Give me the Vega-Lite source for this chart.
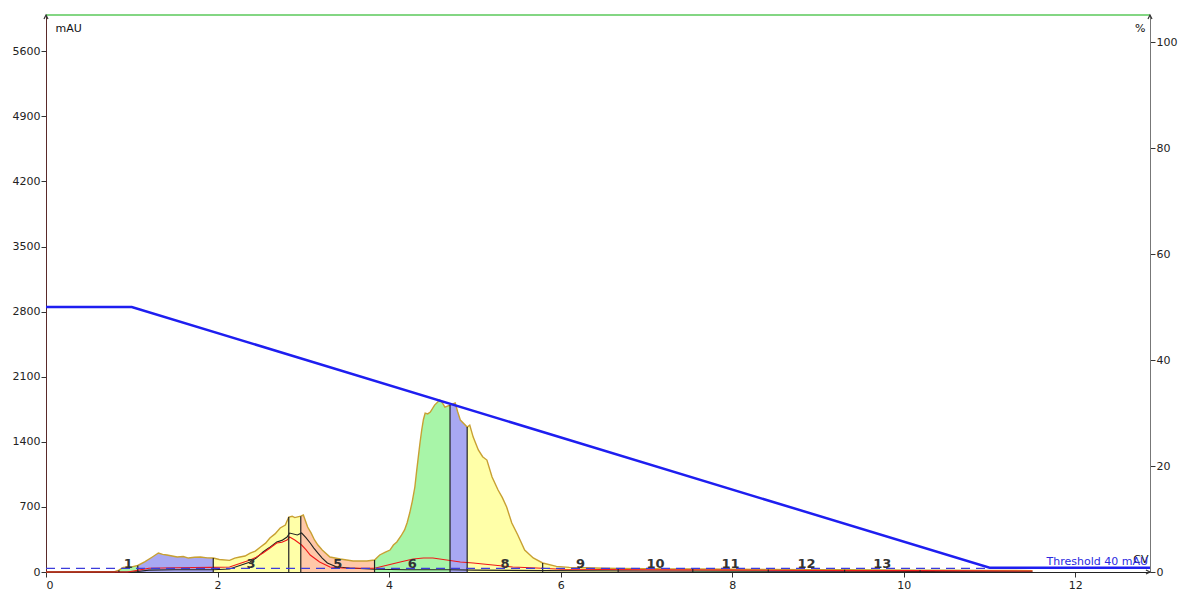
{
  "$schema": "https://vega.github.io/schema/vega-lite/v6.json",
  "width": 1104,
  "height": 557,
  "autosize": {"type": "none"},
  "padding": {"left": 46, "top": 15, "right": 32, "bottom": 19},
  "background": "white",
  "config": {
    "view": {"stroke": null},
    "font": "DejaVu Sans",
    "axis": {"labelFont": "DejaVu Sans", "labelFontSize": 11, "labelColor": "#222", "tickSize": 5, "tickColor": "#333", "grid": false, "titleFont": "DejaVu Sans", "titleFontSize": 11, "titleFontWeight": "normal", "titleColor": "#111", "format": "d"}
  },
  "datasets": {
    "uv": [
      {"cv": 0, "mau": 0, "frac": "0"}, {"cv": 0.5, "mau": 2, "frac": "0"}, {"cv": 0.8, "mau": 4, "frac": "0"},
      {"cv": 0.85, "mau": 20, "frac": "1"}, {"cv": 0.9, "mau": 50, "frac": "1"}, {"cv": 1.0, "mau": 55, "frac": "1"}, {"cv": 1.07, "mau": 70, "frac": "1"},
      {"cv": 1.07, "mau": 70, "frac": "2"}, {"cv": 1.15, "mau": 108, "frac": "2"}, {"cv": 1.24, "mau": 161, "frac": "2"}, {"cv": 1.31, "mau": 204, "frac": "2"}, {"cv": 1.36, "mau": 190, "frac": "2"}, {"cv": 1.41, "mau": 183, "frac": "2"}, {"cv": 1.47, "mau": 172, "frac": "2"}, {"cv": 1.53, "mau": 161, "frac": "2"}, {"cv": 1.6, "mau": 166, "frac": "2"}, {"cv": 1.66, "mau": 150, "frac": "2"}, {"cv": 1.73, "mau": 158, "frac": "2"}, {"cv": 1.8, "mau": 161, "frac": "2"}, {"cv": 1.88, "mau": 152, "frac": "2"}, {"cv": 1.95, "mau": 150, "frac": "2"},
      {"cv": 1.95, "mau": 150, "frac": "3"}, {"cv": 2.02, "mau": 135, "frac": "3"}, {"cv": 2.14, "mau": 125, "frac": "3"}, {"cv": 2.2, "mau": 150, "frac": "3"}, {"cv": 2.26, "mau": 161, "frac": "3"}, {"cv": 2.32, "mau": 172, "frac": "3"}, {"cv": 2.38, "mau": 204, "frac": "3"}, {"cv": 2.44, "mau": 225, "frac": "3"}, {"cv": 2.5, "mau": 269, "frac": "3"}, {"cv": 2.56, "mau": 310, "frac": "3"}, {"cv": 2.61, "mau": 366, "frac": "3"}, {"cv": 2.67, "mau": 410, "frac": "3"}, {"cv": 2.73, "mau": 473, "frac": "3"}, {"cv": 2.79, "mau": 505, "frac": "3"}, {"cv": 2.83, "mau": 591, "frac": "3"},
      {"cv": 2.83, "mau": 591, "frac": "4"}, {"cv": 2.87, "mau": 600, "frac": "4"}, {"cv": 2.9, "mau": 585, "frac": "4"}, {"cv": 2.97, "mau": 600, "frac": "4"},
      {"cv": 2.97, "mau": 600, "frac": "5"}, {"cv": 3.0, "mau": 613, "frac": "5"}, {"cv": 3.05, "mau": 484, "frac": "5"}, {"cv": 3.09, "mau": 420, "frac": "5"}, {"cv": 3.13, "mau": 344, "frac": "5"}, {"cv": 3.17, "mau": 290, "frac": "5"}, {"cv": 3.22, "mau": 237, "frac": "5"}, {"cv": 3.31, "mau": 161, "frac": "5"}, {"cv": 3.43, "mau": 140, "frac": "5"}, {"cv": 3.58, "mau": 118, "frac": "5"}, {"cv": 3.74, "mau": 118, "frac": "5"}, {"cv": 3.83, "mau": 129, "frac": "5"},
      {"cv": 3.83, "mau": 129, "frac": "6"}, {"cv": 3.89, "mau": 183, "frac": "6"}, {"cv": 3.95, "mau": 210, "frac": "6"}, {"cv": 4.01, "mau": 236, "frac": "6"}, {"cv": 4.05, "mau": 290, "frac": "6"}, {"cv": 4.09, "mau": 323, "frac": "6"}, {"cv": 4.14, "mau": 390, "frac": "6"}, {"cv": 4.18, "mau": 452, "frac": "6"}, {"cv": 4.21, "mau": 530, "frac": "6"}, {"cv": 4.24, "mau": 634, "frac": "6"}, {"cv": 4.27, "mau": 760, "frac": "6"}, {"cv": 4.3, "mau": 914, "frac": "6"}, {"cv": 4.32, "mau": 1080, "frac": "6"}, {"cv": 4.34, "mau": 1236, "frac": "6"}, {"cv": 4.36, "mau": 1390, "frac": "6"}, {"cv": 4.38, "mau": 1527, "frac": "6"}, {"cv": 4.4, "mau": 1640, "frac": "6"}, {"cv": 4.42, "mau": 1709, "frac": "6"}, {"cv": 4.45, "mau": 1700, "frac": "6"}, {"cv": 4.48, "mau": 1720, "frac": "6"}, {"cv": 4.53, "mau": 1795, "frac": "6"}, {"cv": 4.59, "mau": 1849, "frac": "6"}, {"cv": 4.62, "mau": 1820, "frac": "6"}, {"cv": 4.65, "mau": 1774, "frac": "6"}, {"cv": 4.71, "mau": 1795, "frac": "6"},
      {"cv": 4.71, "mau": 1795, "frac": "7"}, {"cv": 4.77, "mau": 1817, "frac": "7"}, {"cv": 4.8, "mau": 1720, "frac": "7"}, {"cv": 4.83, "mau": 1634, "frac": "7"}, {"cv": 4.91, "mau": 1559, "frac": "7"},
      {"cv": 4.91, "mau": 1559, "frac": "8"}, {"cv": 4.94, "mau": 1580, "frac": "8"}, {"cv": 4.98, "mau": 1451, "frac": "8"}, {"cv": 5.04, "mau": 1312, "frac": "8"}, {"cv": 5.09, "mau": 1240, "frac": "8"}, {"cv": 5.14, "mau": 1204, "frac": "8"}, {"cv": 5.2, "mau": 1021, "frac": "8"}, {"cv": 5.27, "mau": 882, "frac": "8"}, {"cv": 5.32, "mau": 800, "frac": "8"}, {"cv": 5.37, "mau": 699, "frac": "8"}, {"cv": 5.43, "mau": 527, "frac": "8"}, {"cv": 5.5, "mau": 398, "frac": "8"}, {"cv": 5.58, "mau": 237, "frac": "8"}, {"cv": 5.68, "mau": 151, "frac": "8"}, {"cv": 5.79, "mau": 97, "frac": "8"},
      {"cv": 5.79, "mau": 97, "frac": "9"}, {"cv": 5.95, "mau": 60, "frac": "9"}, {"cv": 6.1, "mau": 50, "frac": "9"}, {"cv": 6.3, "mau": 45, "frac": "9"}, {"cv": 6.5, "mau": 40, "frac": "9"}, {"cv": 6.67, "mau": 38, "frac": "9"},
      {"cv": 6.67, "mau": 38, "frac": "10"}, {"cv": 7.0, "mau": 35, "frac": "10"}, {"cv": 7.3, "mau": 33, "frac": "10"}, {"cv": 7.54, "mau": 32, "frac": "10"},
      {"cv": 7.54, "mau": 32, "frac": "11"}, {"cv": 8.0, "mau": 30, "frac": "11"}, {"cv": 8.42, "mau": 28, "frac": "11"},
      {"cv": 8.42, "mau": 28, "frac": "12"}, {"cv": 8.9, "mau": 25, "frac": "12"}, {"cv": 9.31, "mau": 24, "frac": "12"},
      {"cv": 9.31, "mau": 24, "frac": "13"}, {"cv": 9.8, "mau": 22, "frac": "13"}, {"cv": 10.19, "mau": 20, "frac": "13"},
      {"cv": 10.5, "mau": 19, "frac": "0"}, {"cv": 11.0, "mau": 18, "frac": "0"}, {"cv": 11.5, "mau": 15, "frac": "0"}
    ],
    "black": [
      {"cv": 0, "mau": 0}, {"cv": 1.0, "mau": 0}, {"cv": 1.07, "mau": 5}, {"cv": 1.2, "mau": 20}, {"cv": 1.5, "mau": 25}, {"cv": 1.95, "mau": 25}, {"cv": 2.14, "mau": 32}, {"cv": 2.38, "mau": 108}, {"cv": 2.45, "mau": 150}, {"cv": 2.53, "mau": 215}, {"cv": 2.6, "mau": 260}, {"cv": 2.69, "mau": 323}, {"cv": 2.75, "mau": 340}, {"cv": 2.81, "mau": 376}, {"cv": 2.84, "mau": 419}, {"cv": 2.93, "mau": 398}, {"cv": 2.98, "mau": 419}, {"cv": 3.03, "mau": 370}, {"cv": 3.08, "mau": 312}, {"cv": 3.12, "mau": 260}, {"cv": 3.17, "mau": 204}, {"cv": 3.22, "mau": 150}, {"cv": 3.28, "mau": 97}, {"cv": 3.39, "mau": 54}, {"cv": 3.54, "mau": 43}, {"cv": 3.83, "mau": 30}, {"cv": 4.2, "mau": 25}, {"cv": 4.7, "mau": 25}, {"cv": 5.0, "mau": 20}, {"cv": 5.8, "mau": 15}, {"cv": 7.0, "mau": 10}, {"cv": 9.0, "mau": 8}, {"cv": 10.2, "mau": 5}, {"cv": 11.5, "mau": 3}
    ],
    "red": [
      {"cv": 0, "mau": 0}, {"cv": 0.95, "mau": 0}, {"cv": 1.05, "mau": 15}, {"cv": 1.2, "mau": 40}, {"cv": 1.5, "mau": 45}, {"cv": 1.95, "mau": 50}, {"cv": 2.14, "mau": 54}, {"cv": 2.38, "mau": 129}, {"cv": 2.45, "mau": 160}, {"cv": 2.53, "mau": 204}, {"cv": 2.6, "mau": 250}, {"cv": 2.69, "mau": 312}, {"cv": 2.75, "mau": 320}, {"cv": 2.81, "mau": 344}, {"cv": 2.84, "mau": 376}, {"cv": 2.9, "mau": 344}, {"cv": 2.98, "mau": 290}, {"cv": 3.03, "mau": 240}, {"cv": 3.08, "mau": 183}, {"cv": 3.19, "mau": 108}, {"cv": 3.31, "mau": 54}, {"cv": 3.46, "mau": 43}, {"cv": 3.83, "mau": 40}, {"cv": 3.89, "mau": 54}, {"cv": 4.13, "mau": 108}, {"cv": 4.28, "mau": 140}, {"cv": 4.4, "mau": 151}, {"cv": 4.51, "mau": 151}, {"cv": 4.67, "mau": 129}, {"cv": 4.83, "mau": 108}, {"cv": 4.98, "mau": 97}, {"cv": 5.21, "mau": 75}, {"cv": 5.44, "mau": 54}, {"cv": 5.72, "mau": 43}, {"cv": 6.0, "mau": 30}, {"cv": 7.0, "mau": 25}, {"cv": 8.0, "mau": 20}, {"cv": 9.5, "mau": 15}, {"cv": 10.2, "mau": 15}, {"cv": 11.5, "mau": 10}
    ],
    "cuts": [
      {"cv": 0.85, "mau": 20}, {"cv": 1.07, "mau": 70}, {"cv": 1.95, "mau": 150}, {"cv": 2.83, "mau": 591}, {"cv": 2.97, "mau": 600}, {"cv": 3.83, "mau": 129}, {"cv": 4.71, "mau": 1795}, {"cv": 4.91, "mau": 1559}, {"cv": 5.79, "mau": 97}, {"cv": 6.67, "mau": 38}, {"cv": 7.54, "mau": 32}, {"cv": 8.42, "mau": 28}, {"cv": 9.31, "mau": 24}, {"cv": 10.19, "mau": 20}
    ],
    "fractions": [
      {"start": 0.85, "end": 1.07, "label": "1"}, {"start": 1.95, "end": 2.83, "label": "3"}, {"start": 2.97, "end": 3.83, "label": "5"}, {"start": 3.83, "end": 4.71, "label": "6"}, {"start": 4.91, "end": 5.79, "label": "8"}, {"start": 5.79, "end": 6.67, "label": "9"}, {"start": 6.67, "end": 7.54, "label": "10"}, {"start": 7.54, "end": 8.42, "label": "11"}, {"start": 8.42, "end": 9.31, "label": "12"}, {"start": 9.31, "end": 10.19, "label": "13"}
    ],
    "gradient": [
      {"cv": 0, "pct": 50}, {"cv": 1.0, "pct": 50}, {"cv": 11.0, "pct": 0.8}, {"cv": 12.87, "pct": 0.8}
    ],
    "marks": [
      {"key": "thr", "cv": 12.87, "mau": 40},
      {"key": "top", "cv": 0, "mau": 5990},
      {"key": "up", "cv": 0, "mau": 5990},
      {"key": "up", "cv": 12.87, "mau": 5990},
      {"key": "right", "cv": 12.87, "mau": 0}
    ]
  },
  "layer": [
    {
      "layer": [
        {
          "data": {"name": "uv"},
          "transform": [{"filter": "datum.frac != '0'"}],
          "mark": {"type": "area", "opacity": 1},
          "encoding": {
            "x": {"field": "cv", "type": "quantitative", "scale": {"domain": [0, 12.87], "nice": false, "zero": false}, "axis": {"values": [0, 2, 4, 6, 8, 10, 12], "domainColor": "#222", "title": "CV", "titleAngle": 0, "titleX": 1102, "titleY": -8, "titleAlign": "right", "titleBaseline": "bottom", "labelPadding": 2}},
            "y": {"field": "mau", "type": "quantitative", "stack": null, "scale": {"domain": [0, 5990], "nice": false}, "axis": {"values": [0, 700, 1400, 2100, 2800, 3500, 4200, 4900, 5600], "domainColor": "#5a2a2a", "title": "mAU", "titleAngle": 0, "titleX": 9, "titleY": 13, "titleAlign": "left", "titleBaseline": "middle", "labelPadding": 1}},
            "color": {"field": "frac", "type": "nominal", "legend": null, "scale": {"domain": ["1","2","3","4","5","6","7","8","9","10","11","12","13"], "range": ["#a8f5a8","#a8a8f2","#ffffa8","#ffffa8","#ffc8a8","#a8f5a8","#a8a8f2","#ffffa8","#ffffa8","#ffc8a8","#a8f5a8","#a8a8f2","#ffffa8"]}}
          }
        },
        {
          "data": {"name": "uv"},
          "mark": {"type": "line", "color": "#c8a032", "strokeWidth": 1.4},
          "encoding": {"x": {"field": "cv", "type": "quantitative"}, "y": {"field": "mau", "type": "quantitative"}}
        },
        {
          "data": {"name": "black"},
          "mark": {"type": "line", "color": "#222", "strokeWidth": 1.1},
          "encoding": {"x": {"field": "cv", "type": "quantitative"}, "y": {"field": "mau", "type": "quantitative"}}
        },
        {
          "data": {"name": "red"},
          "mark": {"type": "line", "color": "#f01818", "strokeWidth": 1.1},
          "encoding": {"x": {"field": "cv", "type": "quantitative"}, "y": {"field": "mau", "type": "quantitative"}}
        },
        {
          "data": {"name": "cuts"},
          "transform": [{"calculate": "0", "as": "base"}],
          "mark": {"type": "rule", "color": "#222", "strokeWidth": 1.2},
          "encoding": {"x": {"field": "cv", "type": "quantitative"}, "y": {"field": "base", "type": "quantitative"}, "y2": {"field": "mau"}}
        },
        {
          "data": {"name": "marks"},
          "transform": [{"filter": "datum.key == 'thr'"}],
          "mark": {"type": "rule", "color": "#3c3cdc", "strokeWidth": 1.3, "strokeDash": [9, 6]},
          "encoding": {"y": {"field": "mau", "type": "quantitative"}}
        },
        {
          "data": {"name": "marks"},
          "transform": [{"filter": "datum.key == 'top'"}],
          "mark": {"type": "rule", "color": "#5ac85a", "strokeWidth": 1.5},
          "encoding": {"y": {"field": "mau", "type": "quantitative"}}
        },
        {
          "data": {"name": "marks"},
          "transform": [{"filter": "datum.key == 'up'"}],
          "mark": {"type": "point", "shape": "M-0.45,0.9L0,0L0.45,0.9", "filled": false, "color": "#333", "size": 80, "strokeWidth": 1.2, "opacity": 1},
          "encoding": {"x": {"field": "cv", "type": "quantitative"}, "y": {"field": "mau", "type": "quantitative"}}
        },
        {
          "data": {"name": "marks"},
          "transform": [{"filter": "datum.key == 'right'"}],
          "mark": {"type": "point", "shape": "M-0.9,-0.45L0,0L-0.9,0.45", "filled": false, "color": "#333", "size": 80, "strokeWidth": 1.2, "opacity": 1},
          "encoding": {"x": {"field": "cv", "type": "quantitative"}, "y": {"field": "mau", "type": "quantitative"}}
        },
        {
          "data": {"name": "fractions"},
          "transform": [{"calculate": "(datum.start + datum.end) / 2", "as": "mid"}, {"calculate": "85", "as": "ly"}],
          "mark": {"type": "text", "fontSize": 13, "fontWeight": "bold", "color": "#333", "baseline": "middle", "align": "center"},
          "encoding": {"x": {"field": "mid", "type": "quantitative"}, "y": {"field": "ly", "type": "quantitative"}, "text": {"field": "label", "type": "nominal"}}
        },
        {
          "data": {"name": "marks"},
          "transform": [{"filter": "datum.key == 'thr'"}],
          "mark": {"type": "text", "text": "Threshold 40 mAU", "fontSize": 11, "color": "#2a2ae0", "align": "right", "baseline": "bottom", "dx": -2, "dy": -1},
          "encoding": {"x": {"field": "cv", "type": "quantitative"}, "y": {"field": "mau", "type": "quantitative"}}
        }
      ]
    },
    {
      "data": {"name": "gradient"},
      "mark": {"type": "line", "color": "#1e1ef0", "strokeWidth": 2.5},
      "encoding": {
        "x": {"field": "cv", "type": "quantitative"},
        "y": {"field": "pct", "type": "quantitative", "scale": {"domain": [0, 105.1], "nice": false}, "axis": {"orient": "right", "values": [0, 20, 40, 60, 80, 100], "domainColor": "#777", "title": "%", "titleAngle": 0, "titleX": -5, "titleY": 13, "titleAlign": "right", "titleBaseline": "middle", "labelPadding": 1}}
      }
    }
  ],
  "resolve": {"scale": {"y": "independent"}}
}
